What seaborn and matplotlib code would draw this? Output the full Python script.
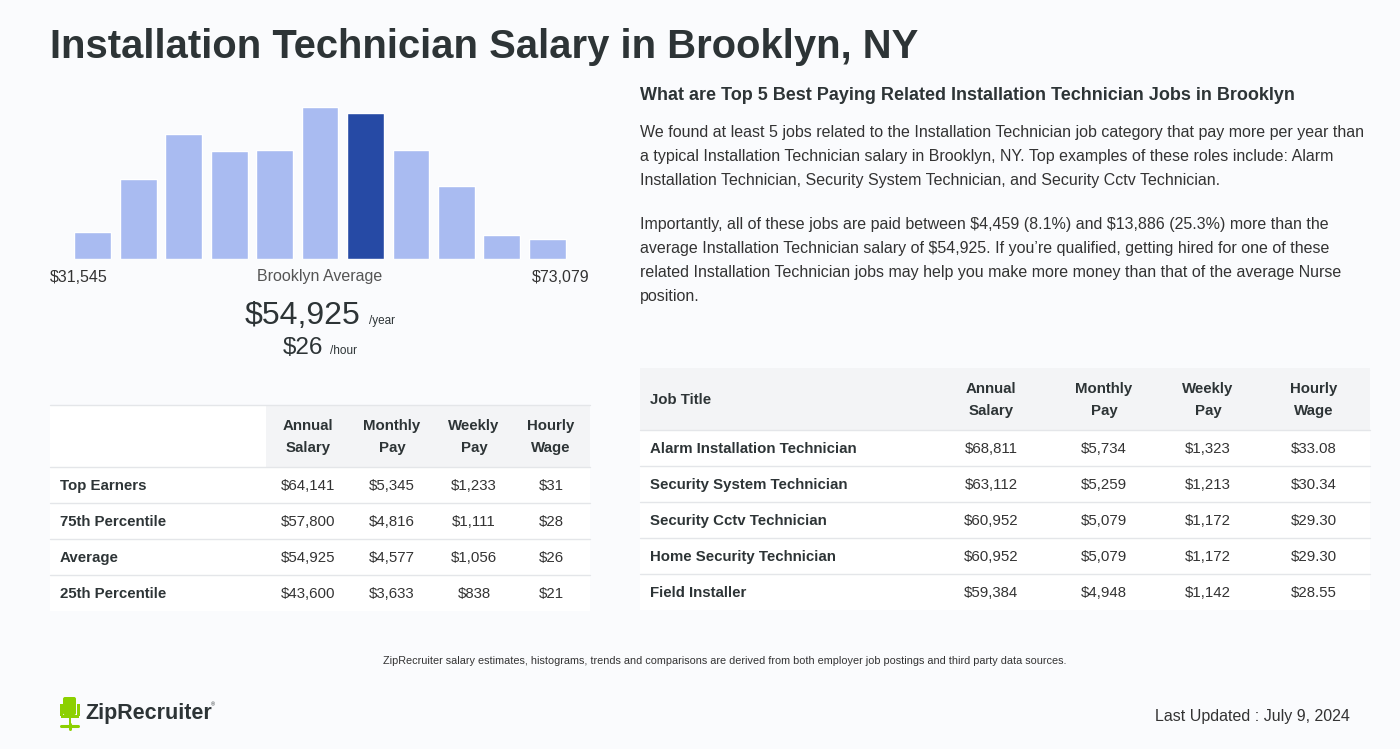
import matplotlib

matplotlib.use("Agg")

import matplotlib.pyplot as plt
import pandas as pd
import seaborn as sns
from matplotlib.patches import Rectangle, FancyBboxPatch

# histogram of salaries (relative bar heights)
bin_heights = [27, 80, 125, 108, 109, 152, 146, 109, 73, 24, 20]
highlight_bin = 6
range_low = "$31,545"
range_high = "$73,079"
avg_year = "$54,925"
avg_hour = "$26"

pay_headers = ["Annual\nSalary", "Monthly\nPay", "Weekly\nPay", "Hourly\nWage"]
pay_rows = ["Top Earners", "75th Percentile", "Average", "25th Percentile"]
pay_annual = ["$64,141", "$57,800", "$54,925", "$43,600"]
pay_monthly = ["$5,345", "$4,816", "$4,577", "$3,633"]
pay_weekly = ["$1,233", "$1,111", "$1,056", "$838"]
pay_hourly = ["$31", "$28", "$26", "$21"]

job_titles = [
    "Alarm Installation Technician",
    "Security System Technician",
    "Security Cctv Technician",
    "Home Security Technician",
    "Field Installer",
]
job_annual = ["$68,811", "$63,112", "$60,952", "$60,952", "$59,384"]
job_monthly = ["$5,734", "$5,259", "$5,079", "$5,079", "$4,948"]
job_weekly = ["$1,323", "$1,213", "$1,172", "$1,172", "$1,142"]
job_hourly = ["$33.08", "$30.34", "$29.30", "$29.30", "$28.55"]

title = "Installation Technician Salary in Brooklyn, NY"
side_title = "What are Top 5 Best Paying Related Installation Technician Jobs in Brooklyn"
para1 = [
    "We found at least 5 jobs related to the Installation Technician job category that pay more per year than",
    "a typical Installation Technician salary in Brooklyn, NY. Top examples of these roles include: Alarm",
    "Installation Technician, Security System Technician, and Security Cctv Technician.",
]
para2 = [
    "Importantly, all of these jobs are paid between $4,459 (8.1%) and $13,886 (25.3%) more than the",
    "average Installation Technician salary of $54,925. If you\u2019re qualified, getting hired for one of these",
    "related Installation Technician jobs may help you make more money than that of the average Nurse",
    "position.",
]
footnote = ("ZipRecruiter salary estimates, histograms, trends and comparisons are derived from "
            "both employer job postings and third party data sources.")
updated = "Last Updated : July 9, 2024"

PAGE = "#fafbfd"
DARK = "#2d3436"
TEXT = "#333333"
LIGHT_BAR = "#a9bbf1"
DARK_BAR = "#264aa5"
HEAD_BG = "#f3f4f6"
RULE = "#e4e6e9"

sns.set_theme(style="white")
plt.rcParams["font.family"] = ["Liberation Sans", "DejaVu Sans"]
plt.rcParams["text.parse_math"] = False

fig = plt.figure(figsize=(14, 7.49), dpi=100, facecolor=PAGE)

# full-page canvas in pixel coordinates
bg = fig.add_axes([0, 0, 1, 1])
bg.set_xlim(0, 1400)
bg.set_ylim(749, 0)
bg.axis("off")
bg.set_facecolor(PAGE)

bg.text(50, 47, title, fontsize=28.8, fontweight="bold", color=DARK, va="center")
bg.text(640, 96, side_title, fontsize=13, fontweight="bold", color=DARK, va="center")
for i, line in enumerate(para1):
    bg.text(640, 133 + 24 * i, line, fontsize=11.5, color=TEXT, va="center")
for i, line in enumerate(para2):
    bg.text(640, 225 + 24 * i, line, fontsize=11.5, color=TEXT, va="center")

# histogram
hist = fig.add_axes([70 / 1400, (749 - 259) / 749, 500 / 1400, 152 / 749])
hist_df = pd.DataFrame({"bin": [str(i) for i in range(len(bin_heights))], "height": bin_heights})
palette = {b: (DARK_BAR if i == highlight_bin else LIGHT_BAR) for i, b in enumerate(hist_df["bin"])}
sns.barplot(data=hist_df, x="bin", y="height", hue="bin", palette=palette,
            width=0.81, saturation=1, legend=False, ax=hist)
hist.set_xlim(-0.5, len(bin_heights) - 0.5)
hist.set_ylim(0, max(bin_heights))
hist.axis("off")

bg.text(50, 277, range_low, fontsize=11.5, color=TEXT, va="center")
bg.text(320, 277, "Brooklyn Average", fontsize=11.5, color="#555555", va="center", ha="center")
bg.text(590, 277, range_high, fontsize=11.5, color=TEXT, va="center", ha="right")
bg.text(360, 316, avg_year, fontsize=23, color=DARK, va="center", ha="right")
bg.text(369, 321, "/year", fontsize=8.5, color=DARK, va="center")
bg.text(323, 348, avg_hour, fontsize=17.5, color=DARK, va="center", ha="right")
bg.text(330, 351, "/hour", fontsize=8.5, color=DARK, va="center")

# left table
bg.add_patch(Rectangle((50, 405), 540, 206, facecolor="white", edgecolor="none"))
bg.add_patch(Rectangle((266, 405), 324, 62, facecolor=HEAD_BG, edgecolor="none"))
bg.plot([50, 590], [405, 405], color=RULE, lw=1)
left_cols = [308, 392, 474, 551]
for x, h in zip(left_cols, pay_headers):
    bg.text(x, 437, h, fontsize=10.8, fontweight="bold", color=DARK, ha="center",
            va="center", linespacing=1.65)
left_values = [pay_annual, pay_monthly, pay_weekly, pay_hourly]
for r, label in enumerate(pay_rows):
    y = 486 + 36 * r
    bg.plot([50, 590], [y - 19, y - 19], color=RULE, lw=1)
    bg.text(60, y, label, fontsize=10.8, fontweight="bold", color=DARK, va="center")
    for x, col in zip(left_cols, left_values):
        bg.text(x, y, col[r], fontsize=10.8, color=TEXT, ha="center", va="center")

# right table
bg.add_patch(Rectangle((640, 368), 730, 242, facecolor="white", edgecolor="none"))
bg.add_patch(Rectangle((640, 368), 730, 62, facecolor=HEAD_BG, edgecolor="none"))
right_cols = [991, 1104, 1208, 1314]
bg.text(650, 400, "Job Title", fontsize=10.8, fontweight="bold", color=DARK, va="center")
for x, h in zip(right_cols, pay_headers):
    bg.text(x, 400, h, fontsize=10.8, fontweight="bold", color=DARK, ha="center",
            va="center", linespacing=1.65)
right_values = [job_annual, job_monthly, job_weekly, job_hourly]
for r, label in enumerate(job_titles):
    y = 449 + 36 * r
    bg.plot([640, 1370], [y - 19, y - 19], color=RULE, lw=1)
    bg.text(650, y, label, fontsize=10.8, fontweight="bold", color=DARK, va="center")
    for x, col in zip(right_cols, right_values):
        bg.text(x, y, col[r], fontsize=10.8, color=TEXT, ha="center", va="center")

# footer
bg.text(725, 661, footnote, fontsize=7.85, color=TEXT, ha="center", va="center")
bg.text(1350, 716, updated, fontsize=11.5, color=TEXT, ha="right", va="center")

# logo: green chair + wordmark
GREEN = "#8cd000"
bg.add_patch(FancyBboxPatch((63, 697), 13, 18, boxstyle="round,pad=0,rounding_size=2",
                            facecolor=GREEN, edgecolor="none"))
bg.add_patch(Rectangle((60, 704), 2.5, 12, facecolor=GREEN, edgecolor="none"))
bg.add_patch(Rectangle((77, 704), 2.5, 12, facecolor=GREEN, edgecolor="none"))
bg.add_patch(Rectangle((61, 715), 18, 3, facecolor=GREEN, edgecolor="none"))
bg.add_patch(Rectangle((68.5, 718), 2.5, 7, facecolor=GREEN, edgecolor="none"))
bg.plot([61, 78], [726, 726], color=GREEN, lw=2.2, solid_capstyle="round")
bg.plot([69.7, 69.7], [724, 729], color=GREEN, lw=2.2)
bg.text(85, 714, "ZipRecruiter", fontsize=15.5, fontweight="bold", color=DARK, va="center")
bg.text(211, 705, "\u00ae", fontsize=4, color=DARK, va="center")

fig.savefig("out.png", dpi=100, facecolor=PAGE)
